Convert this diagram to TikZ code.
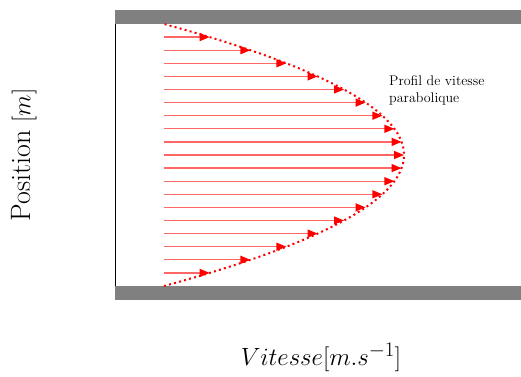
\documentclass[tikz,border=0pt]{standalone}
\usetikzlibrary{arrows.meta}
\begin{document}
\begin{tikzpicture}[x=1pt,y=1pt,
  velarrow/.style={draw=red!60, line width=1.3pt, -{Triangle[length=10pt,width=8pt,fill=red,color=red]}},
  profile/.style={draw=red, line width=2pt, dash pattern=on 2pt off 3.2pt},
  lbl/.style={inner sep=0pt}]
\useasboundingbox (0,0) rectangle (521,376);
\fill[fill={rgb,255:red,128;green,128;blue,128}] (115,352) rectangle (521,366);
\fill[fill={rgb,255:red,128;green,128;blue,128}] (115,76) rectangle (521,90);
\draw[black, line width=1pt] (115.5,90) -- (115.5,352);
\foreach \k in {1,...,19} {
  \pgfmathsetmacro{\t}{(\k-10)/10}
  \pgfmathsetmacro{\yy}{221+131*\t}
  \pgfmathsetmacro{\xx}{164+240*(1-\t*\t)}
  \coordinate (s\k) at (164,\yy);
  \coordinate (e\k) at (\xx,\yy);
  \draw[velarrow] (s\k) -- (e\k);
}
\draw[profile] plot[domain=-1:1, samples=80, smooth] ({164+240*(1-\x*\x)}, {221+131*\x});
\node[lbl, anchor=north west, align=left, font=\fontsize{14}{17}\selectfont] (lab) at (389,301) {Profil de vitesse\\parabolique};
\node[lbl, rotate=90, font=\fontsize{28}{32}\selectfont] (ylab) at (24,221) {Position $[m]$};
\node[lbl, font=\fontsize{28.5}{32}\selectfont] (xlab) at (321,19) {$Vitesse[m.s^{-1}]$};
\end{tikzpicture}
\end{document}
